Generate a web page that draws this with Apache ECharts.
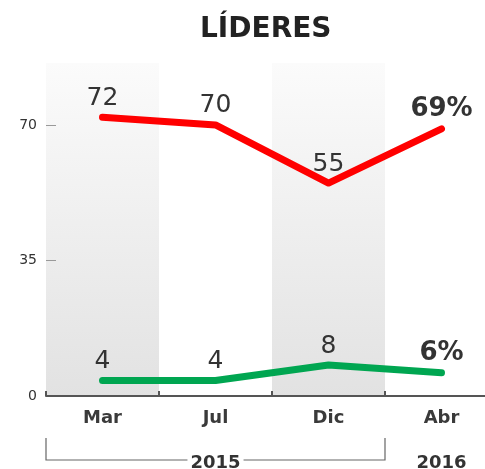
<!DOCTYPE html>
<html>
<head>
<meta charset="utf-8">
<script src="https://cdn.jsdelivr.net/npm/echarts@6/dist/echarts.min.js"></script>
<style>
  html, body { margin: 0; padding: 0; background: #fff; }
  #main { width: 485px; height: 469px; }
</style>
</head>
<body>
<div id="main"></div>
<script>
var months = ['Mar', 'Jul', 'Dic', 'Abr'];
var lideres = [72, 70, 55, 69];
var otros = [4, 4, 8, 6];
var years = [
  { name: '2015', from: 'Mar', to: 'Dic' },
  { name: '2016', from: 'Abr', to: 'Abr' }
];
var yTicks = [0, 35, 70];

var chart = echarts.init(document.getElementById('main'));
var font = 'DejaVu Sans';

function lastBold(params) {
  if (params.dataIndex === months.length - 1) {
    return '{b|' + params.value + '%}';
  }
  return params.value;
}

var labelStyle = {
  show: true,
  position: 'top',
  distance: 6,
  formatter: lastBold,
  fontFamily: font,
  fontSize: 25,
  color: '#333',
  rich: {
    b: { fontFamily: font, fontSize: 26, fontWeight: 'bold', color: '#333' }
  }
};

var band = new echarts.graphic.LinearGradient(0, 0, 0, 1, [
  { offset: 0, color: '#fbfbfb' },
  { offset: 1, color: '#e2e2e2' }
]);

var option = {
  animation: false,
  title: {
    text: 'LÍDERES',
    left: 195,
    top: 11,
    textStyle: { fontFamily: font, fontSize: 28, fontWeight: 'bold', color: '#222' }
  },
  grid: { left: 46, right: -13, top: 63, bottom: 73, outerBoundsMode: 'none', containLabel: false },
  xAxis: {
    type: 'category',
    data: months,
    boundaryGap: true,
    axisLine: { lineStyle: { color: '#555', width: 2 } },
    axisTick: { show: true, inside: true, length: 5, lineStyle: { color: '#555', width: 2 } },
    axisLabel: { fontFamily: font, fontSize: 18, fontWeight: 'bold', color: '#3a3a3a', margin: 13 },
    splitArea: { show: true, areaStyle: { color: [band, 'rgba(0,0,0,0)'] } }
  },
  yAxis: {
    type: 'value',
    min: 0,
    max: 86,
    interval: 35,
    axisLine: { show: false },
    axisTick: { show: true, inside: true, length: 10, customValues: [35, 70], lineStyle: { color: '#999' } },
    splitLine: { show: false },
    axisLabel: {
      fontFamily: font,
      fontSize: 14,
      color: '#333',
      margin: 9,
      customValues: yTicks
    }
  },
  series: [
    {
      type: 'line',
      data: lideres,
      symbol: 'circle',
      symbolSize: 1,
      itemStyle: { color: '#ff0000' },
      lineStyle: { color: '#ff0000', width: 7, cap: 'round', join: 'round' },
      label: labelStyle
    },
    {
      type: 'line',
      data: otros,
      symbol: 'circle',
      symbolSize: 1,
      itemStyle: { color: '#00a651' },
      lineStyle: { color: '#00a651', width: 7, cap: 'round', join: 'round' },
      label: labelStyle
    }
  ]
};
chart.setOption(option);

// year brackets under the month labels
var half = (chart.convertToPixel({ xAxisIndex: 0 }, 'Jul') - chart.convertToPixel({ xAxisIndex: 0 }, 'Mar')) / 2;
var elements = [];
var yLine = 460;
years.forEach(function (yr) {
  var x0 = chart.convertToPixel({ xAxisIndex: 0 }, yr.from) - half;
  var x1 = chart.convertToPixel({ xAxisIndex: 0 }, yr.to) + half;
  var mid = (x0 + x1) / 2;
  if (yr.from !== yr.to) {
    elements.push({
      type: 'polyline',
      shape: { points: [[x0, 438], [x0, yLine], [x1, yLine], [x1, 438]] },
      style: { stroke: '#666', lineWidth: 1.2, fill: null }
    });
  } else {
    mid = chart.convertToPixel({ xAxisIndex: 0 }, yr.from);
  }
  elements.push({
    type: 'text',
    x: mid,
    y: yLine + 3,
    style: {
      text: yr.name,
      align: 'center',
      verticalAlign: 'middle',
      fontFamily: font,
      fontSize: 18,
      fontWeight: 'bold',
      fill: '#333',
      backgroundColor: '#fff',
      padding: [0, 3]
    },
    z: 10
  });
});
chart.setOption({ graphic: elements });
</script>
</body>
</html>
